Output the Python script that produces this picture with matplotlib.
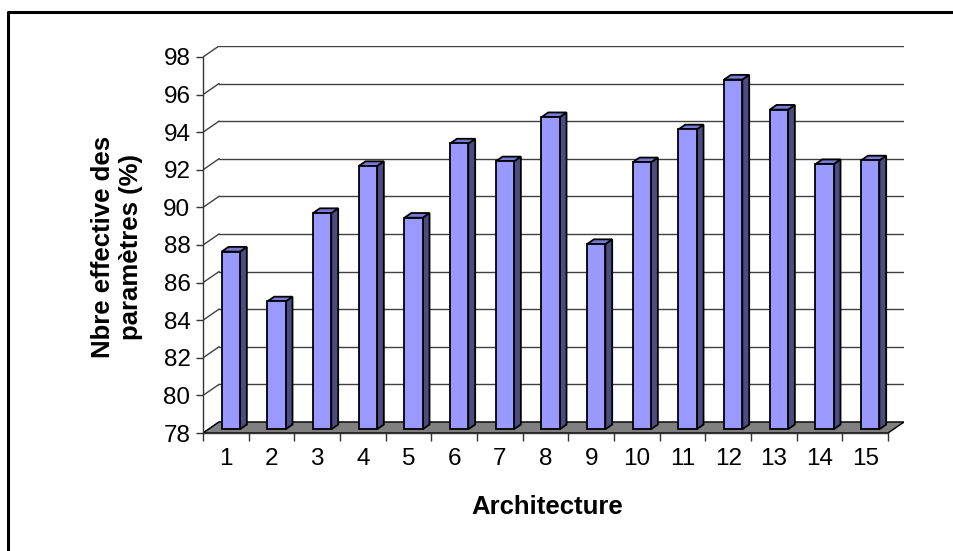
import matplotlib.pyplot as plt
from matplotlib.patches import Polygon
from matplotlib.lines import Line2D
import numpy as np

# data
architectures = list(range(1, 16))
values = [87.45, 84.8, 89.5, 92.0, 89.25, 93.2, 92.25, 94.6,
          87.85, 92.2, 93.95, 96.6, 95.0, 92.1, 92.3]
yticks = list(range(78, 100, 2))
ylabel = "Nbre effective des\nparamètres (%)"
xlabel = "Architecture"

plt.rcParams['font.family'] = ['Liberation Sans', 'DejaVu Sans']

W, H = 954, 551
fig = plt.figure(figsize=(W / 100, H / 100), dpi=100)
fig.patch.set_facecolor('white')

# pseudo 3d: depth offset of the back wall, in data units
dx, dy = 0.35, 0.585
ax = fig.add_axes([203 / W, 118 / H, 701 / W, 387 / H])
ax.set_xlim(0.5, 15.5 + dx)
ax.set_ylim(78, 98 + dy)
ax.patch.set_visible(False)

grid_col = '#404040'
for v in yticks:
    ax.plot([0.5 + dx, 15.5 + dx], [v + dy, v + dy], color=grid_col, lw=1, zorder=1)
    ax.plot([0.5, 0.5 + dx], [v, v + dy], color=grid_col, lw=1, zorder=1)

# floor
floor = Polygon([(0.5, 78), (15.5, 78), (15.5 + dx, 78 + dy), (0.5 + dx, 78 + dy)],
                closed=True, facecolor='#808080', edgecolor='black', lw=1, zorder=2)
ax.add_patch(floor)

# bars
fx, fy = 0.11, 0.2       # front face offset into the depth
bx, by = 0.15, 0.25      # bar depth
bw = 0.4
ax.bar(np.array(architectures) + fx, np.array(values) - 78, width=bw, bottom=78 + fy,
       color='#9999FF', edgecolor='black', lw=1.3, zorder=4)
for x, v in zip(architectures, values):
    x0 = x + fx - bw / 2
    x1 = x0 + bw
    y0 = 78 + fy
    y1 = v + fy
    side = Polygon([(x1, y0), (x1 + bx, y0 + by), (x1 + bx, y1 + by), (x1, y1)],
                   closed=True, facecolor='#4C4C80', edgecolor='black', lw=1.3, zorder=3)
    top = Polygon([(x0, y1), (x1, y1), (x1 + bx, y1 + by), (x0 + bx, y1 + by)],
                  closed=True, facecolor='#7A7AD6', edgecolor='black', lw=1.3, zorder=3)
    ax.add_patch(side)
    ax.add_patch(top)

for s in ['top', 'right']:
    ax.spines[s].set_visible(False)
ax.spines['left'].set_bounds(78, 98)
ax.spines['bottom'].set_bounds(0.5, 15.5)
for s in ['left', 'bottom']:
    ax.spines[s].set_color('#333333')
    ax.spines[s].set_linewidth(1)
    ax.spines[s].set_zorder(5)

ax.set_yticks(yticks)
ax.set_xticks(architectures)
ax.set_xticks(np.arange(0.5, 16, 1), minor=True)
ax.tick_params(axis='y', length=5, width=1, pad=4, labelsize=17.5, color='#333333')
ax.tick_params(axis='x', which='major', length=0, pad=11, labelsize=17.5)
ax.tick_params(axis='x', which='minor', length=6, width=1, color='#333333')

fig.text(117 / W, 1 - 247 / H, ylabel, rotation=90, ha='center', va='center',
         fontsize=18.5, fontweight='bold', linespacing=1.25)
fig.text(547 / W, 1 - 507 / H, xlabel, ha='center', va='center',
         fontsize=18.5, fontweight='bold')

# outer frame (only top and left edges are in view)
fig.add_artist(Line2D([8 / W, 8 / W, 1], [0, 1 - 12 / H, 1 - 12 / H],
                      transform=fig.transFigure, color='black', lw=2.2))

fig.savefig('out.png', dpi=100)
